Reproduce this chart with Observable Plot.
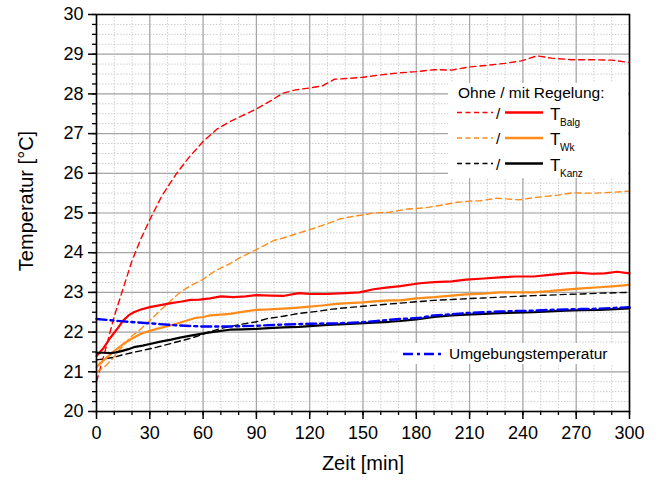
<!DOCTYPE html>
<html><head><meta charset="utf-8">
<script src="https://cdn.jsdelivr.net/npm/d3@7"></script>
<script src="https://cdn.jsdelivr.net/npm/@observablehq/plot@0.6"></script>
<style>body{margin:0;background:#fff}#chart svg{display:block}</style>
</head><body><div id="chart"></div>
<script>
// ---- data (time in min, temperature in °C) ----
const balgOhneT = [0, 5, 10, 15, 20, 25, 30, 37, 45, 52, 60, 68, 75, 82, 90, 97, 105, 112, 120, 127, 134, 142, 150, 160, 170, 180, 190, 200, 210, 220, 230, 239, 248, 256, 268, 280, 290, 300];
const balgOhneV = [20.75, 21.55, 22.4, 23.1, 23.8, 24.35, 24.83, 25.45, 25.99, 26.4, 26.8, 27.12, 27.3, 27.45, 27.62, 27.8, 28.02, 28.1, 28.15, 28.2, 28.37, 28.39, 28.42, 28.48, 28.53, 28.56, 28.61, 28.6, 28.68, 28.72, 28.77, 28.83, 28.96, 28.9, 28.86, 28.86, 28.85, 28.79];

const balgMitT = [0, 4, 8, 12, 15, 18, 21, 25, 30, 36, 42, 48, 53, 58, 64, 70, 77, 84, 90, 98, 105, 114, 120, 130, 140, 148, 156, 163, 171, 182, 190, 200, 208, 218, 227, 236, 246, 255, 264, 270, 279, 286, 293, 300];
const balgMitV = [21.4, 21.6, 21.87, 22.1, 22.29, 22.42, 22.5, 22.57, 22.63, 22.68, 22.73, 22.77, 22.81, 22.82, 22.85, 22.9, 22.88, 22.9, 22.93, 22.92, 22.91, 22.98, 22.96, 22.96, 22.98, 23.0, 23.08, 23.12, 23.16, 23.23, 23.26, 23.28, 23.32, 23.35, 23.38, 23.4, 23.4, 23.44, 23.48, 23.5, 23.47, 23.48, 23.52, 23.48];

const wkOhneT = [0, 4, 8, 13, 19, 25, 30, 36, 42, 47, 53, 60, 67, 75, 81, 90, 100, 105, 112, 120, 128, 137, 145, 150, 156, 165, 175, 185, 193, 203, 210, 216, 225, 232, 238, 245, 253, 260, 268, 274, 280, 290, 300];
const wkOhneV = [21.0, 21.1, 21.28, 21.55, 21.87, 22.08, 22.29, 22.55, 22.8, 23.0, 23.17, 23.33, 23.55, 23.72, 23.88, 24.08, 24.31, 24.37, 24.47, 24.58, 24.7, 24.85, 24.92, 24.95, 25.0, 25.02, 25.1, 25.13, 25.19, 25.27, 25.3, 25.31, 25.37, 25.35, 25.33, 25.38, 25.42, 25.45, 25.51, 25.5, 25.5, 25.52, 25.55];

const wkMitT = [0, 3, 6, 10, 15, 20, 25, 30, 34, 40, 45, 50, 56, 60, 64, 70, 75, 82, 90, 97, 105, 112, 120, 127, 135, 142, 150, 158, 165, 171, 180, 190, 200, 208, 218, 227, 236, 246, 255, 264, 273, 283, 292, 300];
const wkMitV = [21.12, 21.25, 21.37, 21.52, 21.7, 21.84, 21.96, 22.03, 22.08, 22.15, 22.21, 22.28, 22.36, 22.38, 22.42, 22.44, 22.46, 22.51, 22.56, 22.57, 22.59, 22.61, 22.64, 22.67, 22.71, 22.73, 22.75, 22.78, 22.8, 22.8, 22.85, 22.88, 22.92, 22.95, 22.97, 23.0, 23.0, 23.0, 23.03, 23.07, 23.1, 23.13, 23.16, 23.19];

const kanzMitT = [0, 4, 8, 11, 14, 18, 21, 26, 30, 36, 42, 47, 53, 58, 62, 68, 75, 82, 90, 97, 105, 114, 120, 130, 140, 148, 156, 165, 171, 180, 190, 200, 208, 218, 227, 236, 246, 255, 264, 273, 283, 292, 300];
const kanzMitV = [21.48, 21.48, 21.47, 21.49, 21.52, 21.57, 21.62, 21.66, 21.7, 21.76, 21.81, 21.86, 21.91, 21.95, 21.98, 22.02, 22.06, 22.07, 22.08, 22.1, 22.12, 22.13, 22.15, 22.18, 22.2, 22.22, 22.24, 22.26, 22.28, 22.32, 22.38, 22.42, 22.44, 22.46, 22.48, 22.49, 22.5, 22.52, 22.54, 22.55, 22.56, 22.58, 22.6];

const kanzOhneT = [0, 5, 10, 15, 21, 27, 34, 40, 45, 51, 57, 63, 69, 75, 82, 90, 96, 105, 114, 120, 127, 133, 142, 150, 160, 171, 182, 190, 200, 208, 218, 227, 236, 246, 255, 264, 273, 283, 292, 300];
const kanzOhneV = [21.3, 21.33, 21.37, 21.43, 21.49, 21.55, 21.62, 21.69, 21.75, 21.82, 21.9, 22.0, 22.08, 22.14, 22.2, 22.26, 22.34, 22.4, 22.47, 22.5, 22.54, 22.58, 22.62, 22.65, 22.69, 22.73, 22.77, 22.8, 22.82, 22.84, 22.86, 22.88, 22.9, 22.92, 22.93, 22.95, 22.96, 22.98, 22.99, 23.0];

const umgT = [0, 15, 30, 45, 60, 75, 90, 105, 120, 135, 150, 158, 165, 171, 182, 190, 200, 208, 218, 227, 236, 246, 255, 264, 273, 283, 292, 300];
const umgV = [22.33, 22.27, 22.22, 22.17, 22.14, 22.14, 22.16, 22.19, 22.21, 22.22, 22.25, 22.28, 22.31, 22.33, 22.36, 22.42, 22.45, 22.48, 22.5, 22.52, 22.53, 22.54, 22.56, 22.57, 22.58, 22.59, 22.61, 22.63];

const xTicks = [0, 30, 60, 90, 120, 150, 180, 210, 240, 270, 300];
const yTicks = [20, 21, 22, 23, 24, 25, 26, 27, 28, 29, 30];
const xMinor = d3.range(0, 301, 10);
const yMinor = d3.range(20, 30.001, 0.25);

const xLabel = "Zeit [min]";
const yLabel = "Temperatur [°C]";
const legendTitle = "Ohne / mit Regelung:";
const legendItems = [
  {name: "Balg", color: "#ff0000"},
  {name: "Wk", color: "#ff8c1a"},
  {name: "Kanz", color: "#000000"}
];
const umgLabel = "Umgebungstemperatur";

const rows = (t, v) => t.map((x, i) => ({t: x, v: v[i]}));
const FONT = "'Liberation Sans', Arial, Helvetica, sans-serif";

const chart = Plot.plot({
  width: 661, height: 483,
  marginLeft: 96, marginRight: 32, marginTop: 14, marginBottom: 72,
  style: {fontFamily: FONT, fontSize: "18px", color: "#000", background: "#fff"},
  x: {domain: [0, 300], label: null},
  y: {domain: [20, 30], label: null},
  marks: [
    Plot.gridX(xMinor, {stroke: "#cfcfcf", strokeOpacity: 1, strokeDasharray: "1.5,1.5"}),
    Plot.gridY(yMinor, {stroke: "#cfcfcf", strokeOpacity: 1, strokeDasharray: "1.5,1.5"}),
    Plot.gridX(xTicks, {stroke: "#a6a6a6", strokeOpacity: 1, strokeWidth: 1.2}),
    Plot.gridY(yTicks, {stroke: "#a6a6a6", strokeOpacity: 1, strokeWidth: 1.2}),
    Plot.line(rows(balgOhneT, balgOhneV), {x: "t", y: "v", stroke: "#ff0000", strokeWidth: 1.4, strokeDasharray: "6,4"}),
    Plot.line(rows(wkOhneT, wkOhneV), {x: "t", y: "v", stroke: "#ff8c1a", strokeWidth: 1.4, strokeDasharray: "6,4"}),
    Plot.line(rows(kanzOhneT, kanzOhneV), {x: "t", y: "v", stroke: "#000", strokeWidth: 1.4, strokeDasharray: "6,4"}),
    Plot.line(rows(balgMitT, balgMitV), {x: "t", y: "v", stroke: "#ff0000", strokeWidth: 2.2}),
    Plot.line(rows(wkMitT, wkMitV), {x: "t", y: "v", stroke: "#ff8c1a", strokeWidth: 2.2}),
    Plot.line(rows(kanzMitT, kanzMitV), {x: "t", y: "v", stroke: "#000", strokeWidth: 2.2}),
    Plot.line(rows(umgT, umgV), {x: "t", y: "v", stroke: "#0000ff", strokeWidth: 2.4, strokeDasharray: "10,4,3,4"}),
    Plot.axisX(xMinor, {tickSize: 4, tickFormat: () => "", label: null, strokeWidth: 1.3}),
    Plot.axisY(yMinor, {tickSize: 4, tickFormat: () => "", label: null, strokeWidth: 1.3}),
    Plot.axisX(xTicks, {tickSize: 8, tickPadding: 7, label: null, fontSize: 18, strokeWidth: 1.5}),
    Plot.axisY(yTicks, {tickSize: 8, tickPadding: 5, label: null, fontSize: 18, strokeWidth: 1.5}),
    Plot.frame({stroke: "#000", strokeWidth: 1.6}),
    Plot.text([xLabel], {frameAnchor: "bottom", dy: 52, fontSize: 20, textAnchor: "middle", lineAnchor: "middle"}),
    Plot.text([yLabel], {frameAnchor: "left", dx: -70, dy: -12, rotate: -90, fontSize: 20, textAnchor: "middle", lineAnchor: "middle"})
  ]
});

// ---- legend (layout in pixels) ----
const svg = d3.select(chart);
const g = svg.append("g").attr("font-family", FONT).attr("text-anchor", "start").attr("fill", "#000");
g.append("rect").attr("x", 448).attr("y", 83).attr("width", 180).attr("height", 95).attr("fill", "#fff");
g.append("text").attr("x", 458).attr("y", 98).attr("font-size", 15.5).text(legendTitle);
legendItems.forEach((d, i) => {
  const y = 112.5 + i * 25.5;
  g.append("line").attr("x1", 457).attr("x2", 493).attr("y1", y).attr("y2", y)
    .attr("stroke", d.color).attr("stroke-width", 1.4).attr("stroke-dasharray", "5,3.5");
  g.append("text").attr("x", 496).attr("y", y + 6).attr("font-size", 15.5).text("/");
  g.append("line").attr("x1", 505).attr("x2", 543).attr("y1", y).attr("y2", y)
    .attr("stroke", d.color).attr("stroke-width", 2.4);
  const t = g.append("text").attr("x", 550).attr("y", y + 7).attr("font-size", 17);
  t.append("tspan").text("T");
  t.append("tspan").attr("x", 560).attr("y", y + 13).attr("font-size", 10).text(d.name);
});
g.append("rect").attr("x", 398).attr("y", 343).attr("width", 230).attr("height", 21).attr("fill", "#fff");
g.append("line").attr("x1", 403).attr("x2", 441).attr("y1", 354).attr("y2", 354)
  .attr("stroke", "#0000ff").attr("stroke-width", 2.4).attr("stroke-dasharray", "10,4,3,4");
g.append("text").attr("x", 449).attr("y", 359).attr("font-size", 15.5).text(umgLabel);

document.getElementById("chart").appendChild(chart);
</script>
</body></html>
